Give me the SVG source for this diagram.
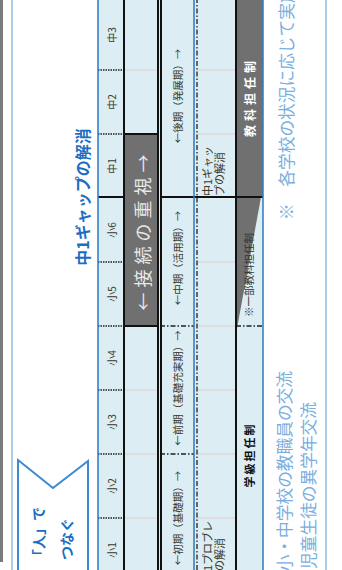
<svg xmlns="http://www.w3.org/2000/svg" width="342" height="570" viewBox="0 0 342 570">
<defs>
<style>
text{font-family:"Noto Sans CJK JP","Noto Sans",sans-serif;text-anchor:middle;dominant-baseline:central}
.cell{fill:#dcedf4}
.gray{fill:#707070}
.blk{stroke:#111;stroke-width:2;fill:none}
.dot{stroke:#222;stroke-width:1.3;stroke-dasharray:1.5 1;fill:none}
.dd{stroke:#222;stroke-width:1.3;stroke-dasharray:5 2 1.5 2;fill:none}
.faint{stroke:#e4cccc;stroke-width:1}
.blu{stroke:#2f78c0;stroke-width:1.5}
.lbl{font-size:10px;fill:#3b3a2a}
.per{font-size:10.5px;fill:#3b3a2a}
.note{font-size:16.7px;fill:#79aee0}
</style>
</defs>
<rect width="342" height="570" fill="#fff"/>
<g id="frame">
<line x1="1.5" y1="0" x2="1.5" y2="562" stroke="#7a7a7a" stroke-width="3"/>
<line x1="12" y1="0" x2="12" y2="570" stroke="#a9cdea" stroke-width="2"/>
<line x1="326" y1="0" x2="326" y2="570" stroke="#a9cdea" stroke-width="2"/>
</g>
<g id="title">
<text transform="translate(82,197) rotate(-90)" font-size="16" font-weight="bold" fill="#1b6ec2">中1ギャップの解消</text>
</g>
<g id="banner">
<path d="M18,585 L18,460 L53,488 L88,461 L88,585" fill="#fff" stroke="#3a8bd3" stroke-width="2"/>
<text transform="translate(38,507) rotate(-90)" font-size="14" font-weight="bold" fill="#1b6ec2" style="text-anchor:end">「人」で</text>
<text transform="translate(66,518) rotate(-90)" font-size="14" font-weight="bold" fill="#1b6ec2" style="text-anchor:end">つなぐ</text>
</g>
<g id="table-bg">
<rect class="cell" x="98" y="-2" width="165" height="590"/>
<rect class="gray" x="124" y="134" width="35" height="192"/>
<rect class="gray" x="236" y="-2" width="27" height="199"/>
<polygon class="gray" points="236,197 261,197 236,334"/>
</g>
<g id="connectors">
<line class="faint" x1="124" y1="70" x2="158" y2="70"/>
<line class="faint" x1="124" y1="390" x2="158" y2="390"/>
<line class="faint" x1="124" y1="454" x2="158" y2="454"/>
<line class="faint" x1="124" y1="518" x2="158" y2="518"/>
<line class="faint" x1="197" y1="70" x2="236" y2="70"/>
<line class="faint" x1="197" y1="134" x2="236" y2="134"/>
<line class="faint" x1="197" y1="262" x2="236" y2="262"/>
<line class="faint" x1="197" y1="326" x2="236" y2="326"/>
<line class="faint" x1="197" y1="390" x2="236" y2="390"/>
<line class="faint" x1="197" y1="454" x2="236" y2="454"/>
<line class="faint" x1="197" y1="518" x2="236" y2="518"/>
<line class="dot" x1="98" y1="70" x2="124" y2="70"/>
<line class="dot" x1="98" y1="134" x2="124" y2="134"/>
<line class="dot" x1="98" y1="262" x2="124" y2="262"/>
<line class="dot" x1="98" y1="326" x2="124" y2="326"/>
<line class="dot" x1="98" y1="390" x2="124" y2="390"/>
<line class="dot" x1="98" y1="454" x2="124" y2="454"/>
<line class="dot" x1="98" y1="518" x2="124" y2="518"/>
<line class="blk" x1="98" y1="197" x2="124" y2="197"/>
<line class="blk" x1="124" y1="134" x2="158" y2="134"/>
<line class="blk" x1="124" y1="326" x2="158" y2="326"/>
<line class="blk" x1="160" y1="197" x2="263" y2="197"/>
<line class="dd" x1="160" y1="326" x2="194" y2="326"/>
<line class="dd" x1="160" y1="454" x2="194" y2="454"/>
<line class="dd" x1="236" y1="326" x2="263" y2="326"/>
<line class="blu" x1="98" y1="-2" x2="98" y2="590"/>
<line class="blk" x1="124" y1="-2" x2="124" y2="590"/>
<line class="blk" x1="158" y1="-2" x2="158" y2="590"/>
<line class="blk" x1="161" y1="-2" x2="161" y2="590"/>
<line class="blu" x1="194" y1="-2" x2="194" y2="590"/>
<line class="dd" x1="197" y1="-2" x2="197" y2="590"/>
<line class="blk" x1="236" y1="-2" x2="236" y2="590"/>
<line class="blu" x1="263" y1="-2" x2="263" y2="590"/>
</g>
<g id="grades">
<text class="lbl" transform="translate(111,35) rotate(-90)">中3</text>
<text class="lbl" transform="translate(111,102) rotate(-90)">中2</text>
<text class="lbl" transform="translate(111,166) rotate(-90)">中1</text>
<text class="lbl" transform="translate(111,230) rotate(-90)">小6</text>
<text class="lbl" transform="translate(111,294) rotate(-90)">小5</text>
<text class="lbl" transform="translate(111,358) rotate(-90)">小4</text>
<text class="lbl" transform="translate(111,422) rotate(-90)">小3</text>
<text class="lbl" transform="translate(111,486) rotate(-90)">小2</text>
<text class="lbl" transform="translate(111,550) rotate(-90)">小1</text>
</g>
<g id="connection">
<text transform="translate(142,230) rotate(-90)" font-size="18" fill="#e8e8e8" letter-spacing="5">←接続の重視→</text>
</g>
<g id="periods">
<text class="per" transform="translate(177,96) rotate(-90)">←後期（発展期）→</text>
<text class="per" transform="translate(177,258) rotate(-90)">←中期（活用期）→</text>
<text class="per" transform="translate(177,388) rotate(-90)">←前期（基礎充実期）→</text>
<text class="per" transform="translate(177,518) rotate(-90)">←初期（基礎期）→</text>
</g>
<g id="gap">
<text transform="translate(207,196) rotate(-90)" font-size="11" fill="#3b3a2a" style="text-anchor:start">中1ギャッ</text>
<text transform="translate(219,196) rotate(-90)" font-size="11" fill="#3b3a2a" style="text-anchor:start">プの解消</text>
</g>
<g id="problem">
<text transform="translate(207,582) rotate(-90)" font-size="11" fill="#3b3a2a" style="text-anchor:start">小1プロブレ</text>
<text transform="translate(219,582) rotate(-90)" font-size="11" fill="#3b3a2a" style="text-anchor:start">ムの解消</text>
</g>
<g id="teachers">
<text transform="translate(249,97) rotate(-90)" font-size="12" font-weight="bold" fill="#fff" letter-spacing="4">教科担任制</text>
<text transform="translate(248,275) rotate(-90)" font-size="10.5" fill="#333">※一部教科担任制</text>
<text transform="translate(249,455) rotate(-90)" font-size="11" font-weight="bold" fill="#111" letter-spacing="2">学級担任制</text>
</g>
<g id="notes">
<text class="note" transform="translate(286,220) rotate(-90)" style="text-anchor:start">※　各学校の状況に応じて実施</text>
<text class="note" transform="translate(284,371) rotate(-90)" style="text-anchor:end">小・中学校の教職員の交流</text>
<text class="note" transform="translate(308,402) rotate(-90)" style="text-anchor:end">児童生徒の異学年交流</text>
</g>
</svg>
